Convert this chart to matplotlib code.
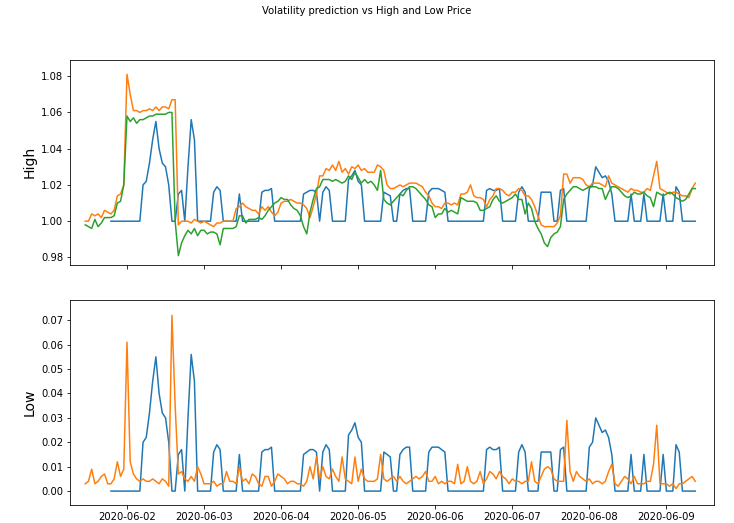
import numpy as np
import pandas as pd
import matplotlib
matplotlib.use("Agg")
import matplotlib.pyplot as plt
import matplotlib.dates as mdates

nan = np.nan
times = pd.date_range("2020-06-01 11:00", periods=191, freq="h")

vol = [nan]*8 + [0]*10 + [0.020,0.022,0.032,0.045,0.055,0.040,0.032,0.030,0.020,0,
 0,0.015,0.017,0,0.030,0.056,0.045,0,0,0,
 0,0,0.016,0.019,0.017,0,0,0,0,0,
 0.015,0,0,0,0,0,0,0.016,0.017,0.017,
 0.018,0,0,0,0,0,0,0,0,0,
 0.015,0.016,0.017,0.017,0.016,0,0.016,0.019,0.017,0,
 0,0,0,0,0.023,0.025,0.028,0.022,0.020,0,
 0,0,0,0,0,0.016,0.015,0.014,0,0,
 0.015,0.017,0.018,0.018,0,0,0,0,0,0.016,
 0.018,0.018,0.018,0.017,0.016,0,0,0,0,0,
 0,0,0,0,0,0,0,0.017,0.018,0.017,
 0.017,0.018,0,0,0,0,0,0.016,0.019,0.016,
 0,0,0,0,0.016,0.016,0.016,0.016,0,0,
 0.017,0.018,0,0,0,0,0,0,0,0.018,
 0.020,0.030,0.027,0.024,0.025,0.022,0.015,0,0,0,
 0,0,0.015,0,0,0,0.015,0,0,0,
 0,0,0.015,0,0,0,0.019,0.016,0,0,0,0,0]

high_pred = [1.000,1.000,1.004,1.003,1.004,1.002,1.006,1.005,1.004,1.006,
 1.014,1.015,1.020,1.081,1.070,1.061,1.061,1.060,1.061,1.061,
 1.062,1.061,1.063,1.061,1.063,1.063,1.062,1.067,1.067,0.998,
 1.000,1.000,1.000,0.999,1.001,1.000,0.999,1.000,0.999,0.998,
 0.997,0.999,0.999,1.000,1.000,1.000,1.000,1.007,1.008,1.010,
 1.008,1.007,1.006,1.006,1.004,1.008,1.006,1.008,1.005,1.003,
 1.005,1.010,1.011,1.011,1.012,1.011,1.010,1.010,1.009,1.007,
 1.002,1.008,1.015,1.025,1.025,1.029,1.028,1.031,1.028,1.033,
 1.027,1.029,1.026,1.030,1.029,1.031,1.028,1.029,1.027,1.027,
 1.027,1.031,1.030,1.028,1.020,1.018,1.018,1.019,1.020,1.019,
 1.020,1.021,1.021,1.021,1.020,1.019,1.016,1.014,1.010,1.008,
 1.008,1.007,1.010,1.010,1.009,1.010,1.009,1.015,1.015,1.016,
 1.020,1.014,1.013,1.013,1.012,1.008,1.012,1.014,1.018,1.018,
 1.017,1.015,1.014,1.016,1.016,1.018,1.017,1.014,1.014,1.012,
 1.008,1.003,0.998,0.997,0.997,0.997,0.997,0.999,1.003,1.026,
 1.026,1.021,1.024,1.024,1.024,1.023,1.020,1.019,1.021,1.021,
 1.021,1.020,1.019,1.025,1.021,1.020,1.019,1.018,1.017,1.016,
 1.018,1.017,1.017,1.016,1.016,1.018,1.017,1.025,1.033,1.018,
 1.017,1.016,1.015,1.016,1.016,1.015,1.014,1.014,1.013,1.018,1.021]

high_true = [0.998,0.997,0.996,1.001,0.997,0.999,1.002,1.002,1.002,1.003,
 1.010,1.011,1.020,1.058,1.055,1.057,1.054,1.056,1.056,1.057,
 1.058,1.058,1.059,1.059,1.059,1.059,1.060,1.060,1.000,0.981,
 0.988,0.992,0.995,0.993,0.996,0.992,0.995,0.995,0.993,0.994,
 0.994,0.993,0.987,0.996,0.996,0.996,0.996,0.997,1.003,1.003,
 0.999,1.001,1.001,1.001,1.002,1.001,1.003,1.006,1.008,1.010,
 1.011,1.013,1.012,1.012,1.009,1.007,1.006,1.003,0.997,0.993,
 1.005,1.012,1.018,1.019,1.023,1.023,1.023,1.022,1.023,1.022,
 1.021,1.022,1.025,1.023,1.027,1.024,1.021,1.023,1.021,1.022,
 1.020,1.017,1.028,1.012,1.010,1.009,1.011,1.013,1.015,1.014,
 1.017,1.019,1.019,1.018,1.016,1.014,1.012,1.009,1.008,1.002,
 1.004,1.004,1.007,1.005,1.006,1.005,1.004,1.013,1.012,1.011,
 1.011,1.011,1.010,1.006,1.006,1.007,1.008,1.012,1.014,1.011,
 1.010,1.011,1.012,1.013,1.015,1.012,1.012,1.004,1.010,1.007,
 1.000,0.996,0.993,0.988,0.986,0.991,0.993,0.994,0.997,1.012,
 1.015,1.017,1.019,1.019,1.018,1.017,1.018,1.019,1.019,1.019,
 1.018,1.018,1.012,1.016,1.019,1.019,1.018,1.016,1.014,1.013,
 1.014,1.016,1.015,1.015,1.016,1.014,1.013,1.008,1.016,1.015,
 1.014,1.015,1.016,1.015,1.013,1.012,1.011,1.012,1.015,1.018,1.018]

low_pred = [0.003,0.004,0.009,0.003,0.004,0.006,0.007,0.003,0.003,0.005,
 0.012,0.006,0.009,0.061,0.012,0.007,0.005,0.004,0.005,0.004,
 0.004,0.005,0.004,0.003,0.005,0.004,0.002,0.072,0.035,0.007,
 0.008,0.005,0.004,0.006,0.004,0.010,0.007,0.003,0.003,0.003,
 0.004,0.002,0.003,0.003,0.008,0.004,0.004,0.003,0.010,0.004,
 0.005,0.003,0.007,0.006,0.003,0.002,0.006,0.006,0.002,0.004,
 0.007,0.006,0.005,0.003,0.004,0.004,0.003,0.003,0.002,0.004,
 0.010,0.005,0.014,0.005,0.010,0.006,0.005,0.009,0.006,0.004,
 0.014,0.005,0.004,0.003,0.014,0.004,0.009,0.005,0.004,0.004,
 0.004,0.005,0.015,0.005,0.004,0.005,0.006,0.004,0.006,0.004,
 0.003,0.004,0.005,0.006,0.005,0.006,0.008,0.004,0.004,0.006,
 0.003,0.004,0.003,0.004,0.004,0.003,0.011,0.003,0.004,0.010,
 0.004,0.003,0.004,0.008,0.003,0.005,0.008,0.007,0.005,0.008,
 0.006,0.005,0.003,0.005,0.004,0.004,0.003,0.004,0.004,0.012,
 0.004,0.003,0.006,0.009,0.010,0.009,0.005,0.004,0.004,0.004,
 0.029,0.008,0.004,0.008,0.006,0.005,0.004,0.005,0.003,0.004,
 0.004,0.003,0.004,0.008,0.011,0.003,0.002,0.004,0.006,0.005,
 0.003,0.006,0.003,0.003,0.003,0.004,0.004,0.011,0.027,0.003,
 0.003,0.003,0.002,0.003,0.001,0.003,0.003,0.004,0.005,0.006,0.004]

vol = np.array(vol, dtype=float)

fig, (ax1, ax2) = plt.subplots(2, 1, sharex=True, figsize=(734/72, 523/72), dpi=72)
fig.subplots_adjust(left=70/734, right=714/734, top=1-60/523, bottom=1-505/523, hspace=36/205)
fig.suptitle("Volatility prediction vs High and Low Price", fontsize=10, y=1-6/523, va="top")

ax1.plot(times, 1 + vol, color="#1f77b4")
ax1.plot(times, high_pred, color="#ff7f0e")
ax1.plot(times, high_true, color="#2ca02c")
ax1.set_ylim(0.9761, 1.0889)
ax1.set_ylabel("High", fontsize=14)

ax2.plot(times, vol, color="#1f77b4")
ax2.plot(times, low_pred, color="#ff7f0e")
ax2.set_ylim(-0.0057, 0.0781)
ax2.set_ylabel("Low", fontsize=14)

ax2.set_xlim(pd.Timestamp("2020-06-01 06:15"), pd.Timestamp("2020-06-09 14:50"))
ax2.xaxis.set_major_locator(mdates.DayLocator())
ax2.xaxis.set_major_formatter(mdates.DateFormatter("%Y-%m-%d"))

fig.savefig("out.png", dpi=72)
